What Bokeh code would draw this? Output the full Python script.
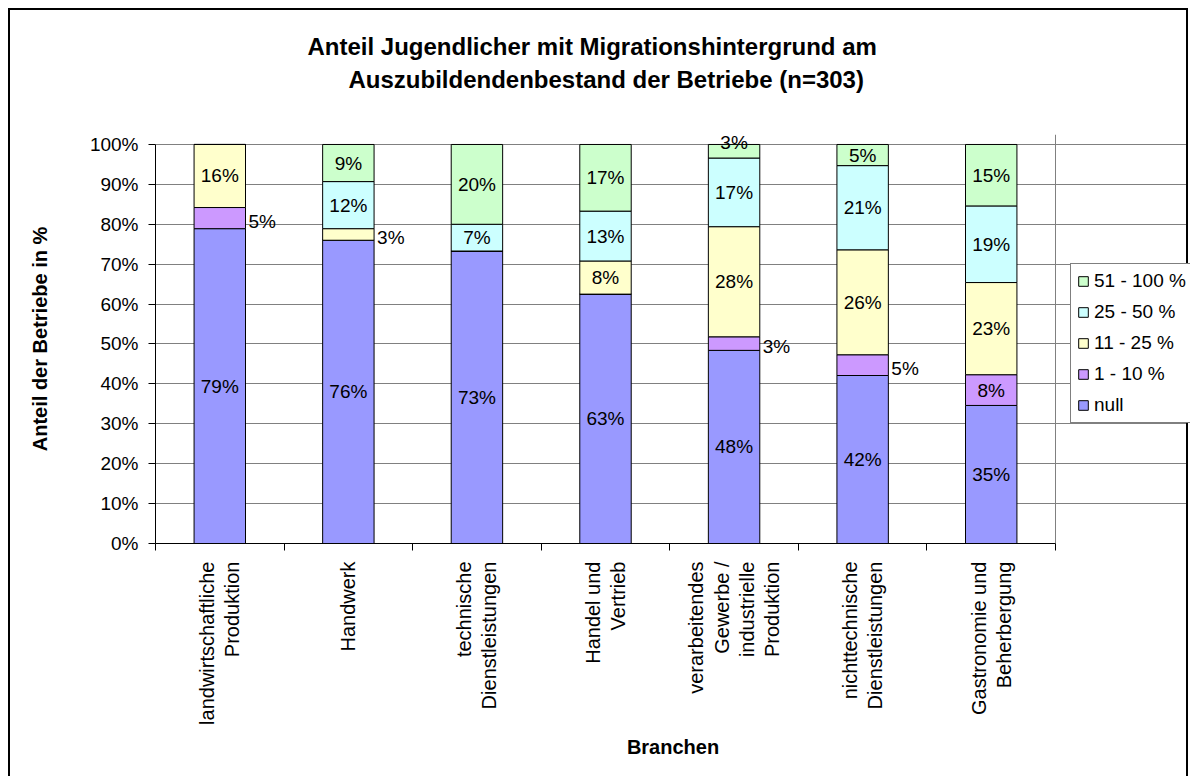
import math
from bokeh.plotting import figure
from bokeh.models import (FixedTicker, Legend, LegendItem, Title, ColumnDataSource,
                          PrintfTickFormatter)
from bokeh.embed import file_html
from bokeh.resources import INLINE
from bokeh.core.properties import value

# ---------------- data ----------------
categories = [
    "landwirtschaftliche\nProduktion",
    "Handwerk",
    "technische\nDienstleistungen",
    "Handel und\nVertrieb",
    "verarbeitendes\nGewerbe /\nindustrielle\nProduktion",
    "nichttechnische\nDienstleistungen",
    "Gastronomie und\nBeherbergung",
]
series_names = ["null", "1 - 10 %", "11 - 25 %", "25 - 50 %", "51 - 100 %"]
null_vals = [78.9, 76.0, 73.3, 62.5, 48.4, 42.1, 34.6]
v_1_10 = [5.3, 0.0, 0.0, 0.0, 3.4, 5.2, 7.7]
v_11_25 = [15.8, 2.9, 0.0, 8.3, 27.6, 26.3, 23.1]
v_25_50 = [0.0, 11.8, 6.7, 12.5, 17.2, 21.1, 19.2]
v_51_100 = [0.0, 9.3, 20.0, 16.7, 3.4, 5.3, 15.4]
y_ticks = list(range(0, 101, 10))

colors = ["#9999FF", "#CC99FF", "#FFFFCC", "#CCFFFF", "#CCFFCC"]
FONT = "Liberation Sans"
BAR_W = 0.4
GRID = "#808080"

n = len(categories)
# the frame also holds the legend area to the right of the category slots
PLOT_PX, FRAME_PX = 900, 1035
x_end = n * FRAME_PX / PLOT_PX

series = [null_vals, v_1_10, v_11_25, v_25_50, v_51_100]
keys = ["s%d" % i for i in range(len(series))]
xs = [i + 0.5 for i in range(n)]
data = {"x": xs}
for k, vals in zip(keys, series):
    data[k] = vals
src = ColumnDataSource(data)

p = figure(width=1180, height=768, x_range=(0, x_end), y_range=(0, 102.5),
           output_backend="svg", toolbar_location=None, title=None,
           min_border_left=145, min_border_right=0, min_border_top=124,
           min_border_bottom=235)
p.styles = {"margin-left": "8px", "margin-top": "8px",
            "border-left": "2px solid black", "border-top": "2px solid black",
            "border-right": "2px solid black"}
p.background_fill_color = "white"
p.border_fill_color = "white"
p.outline_line_color = None

rs = p.vbar_stack(keys, x="x", width=BAR_W, fill_color=colors, line_color="black",
                  line_width=1, source=src)

# labels
in_x, in_y, in_t = [], [], []
out_x, out_y, out_t = [], [], []
top_x, top_y, top_t = [], [], []
for ci, xc in enumerate(xs):
    vals = [s[ci] for s in series]
    last = max(i for i, v in enumerate(vals) if v > 0)
    bottom = 0.0
    for si, v in enumerate(vals):
        if v > 0:
            txt = "%d%%" % int(v + 0.5)
            mid = bottom + v / 2
            if si == last and v < 4:
                top_x.append(xc); top_y.append(bottom + v); top_t.append(txt)
            elif si != last and v < 6:
                out_x.append(xc + BAR_W / 2); out_y.append(mid); out_t.append(txt)
            else:
                in_x.append(xc); in_y.append(mid); in_t.append(txt)
        bottom += v

lab_font = value(FONT)
LAB_SIZE = "19px"
p.text(x=in_x, y=in_y, text=in_t, text_align="center", text_baseline="middle",
       text_font=lab_font, text_font_size=LAB_SIZE, text_color="black")
p.text(x=out_x, y=out_y, text=out_t, text_align="left", text_baseline="middle",
       x_offset=3, y_offset=3, text_font=lab_font, text_font_size=LAB_SIZE,
       text_color="black")
p.text(x=top_x, y=top_y, text=top_t, text_align="center", text_baseline="middle",
       y_offset=-2, text_font=lab_font, text_font_size=LAB_SIZE, text_color="black")

# axes
p.yaxis.ticker = FixedTicker(ticks=y_ticks)
p.yaxis.formatter = PrintfTickFormatter(format="%d%%")
p.yaxis.bounds = (0, 100)
p.yaxis.major_tick_in = 0
p.yaxis.major_tick_out = 7
p.yaxis.minor_tick_line_color = None
p.yaxis.major_label_standoff = 10
p.yaxis.axis_label = "Anteil der Betriebe in %"
p.yaxis.axis_label_standoff = 36
p.yaxis.major_label_text_font_size = "19px"

p.xaxis.ticker = FixedTicker(ticks=xs, minor_ticks=list(range(n + 1)))
p.xaxis.bounds = (0, n)
p.xaxis.major_label_overrides = {x: c for x, c in zip(xs, categories)}
p.xaxis.major_label_orientation = math.pi / 2
p.xaxis.major_tick_line_color = None
p.xaxis.minor_tick_in = 0
p.xaxis.minor_tick_out = 7
p.xaxis.minor_tick_line_color = "black"
p.xaxis.major_label_standoff = 11
p.xaxis.major_label_text_font_size = "20px"
p.xaxis.major_label_text_line_height = 1.14
p.xaxis.axis_label = "Branchen"
p.xaxis.axis_label_standoff = 8

for ax in (p.xaxis[0], p.yaxis[0]):
    ax.axis_line_color = "black"
    ax.major_label_text_font = FONT
    ax.major_label_text_color = "black"
    ax.axis_label_text_font = FONT
    ax.axis_label_text_font_style = "bold"
    ax.axis_label_text_font_size = "20px"
    ax.axis_label_text_color = "black"

# grid: horizontal lines over the category slots, vertical right border of the plot area
p.ygrid.ticker = FixedTicker(ticks=y_ticks)
p.ygrid.bounds = (0, n)
p.ygrid.grid_line_color = GRID
p.xgrid.ticker = FixedTicker(ticks=[n])
p.xgrid.bounds = (0, 100)
p.xgrid.grid_line_color = GRID

# titles (spacer first, nearest to the frame)
spacer = Title(text=" ", text_font_size="2px", standoff=36)
t2 = Title(text="Auszubildendenbestand der Betriebe (n=303)", align="left",
           offset=193, text_font=FONT, text_font_size="24px", text_font_style="bold",
           text_color="black", standoff=4)
t1 = Title(text="Anteil Jugendlicher mit Migrationshintergrund am", align="left",
           offset=152, text_font=FONT, text_font_size="24px", text_font_style="bold",
           text_color="black", standoff=4)
p.add_layout(spacer, "above")
p.add_layout(t2, "above")
p.add_layout(t1, "above")

# legend
items = [LegendItem(label=nm, renderers=[r]) for nm, r in zip(series_names, rs)][::-1]
legend = Legend(items=items, location=(915, 120), label_text_font=FONT,
                label_text_font_size="19px", label_text_color="black",
                glyph_width=12, glyph_height=12, label_height=20, spacing=9,
                padding=6, label_standoff=5, border_line_color="black",
                border_line_width=1, background_fill_alpha=1, margin=0)
p.add_layout(legend)

open("out.html", "w").write(file_html(p, INLINE))
